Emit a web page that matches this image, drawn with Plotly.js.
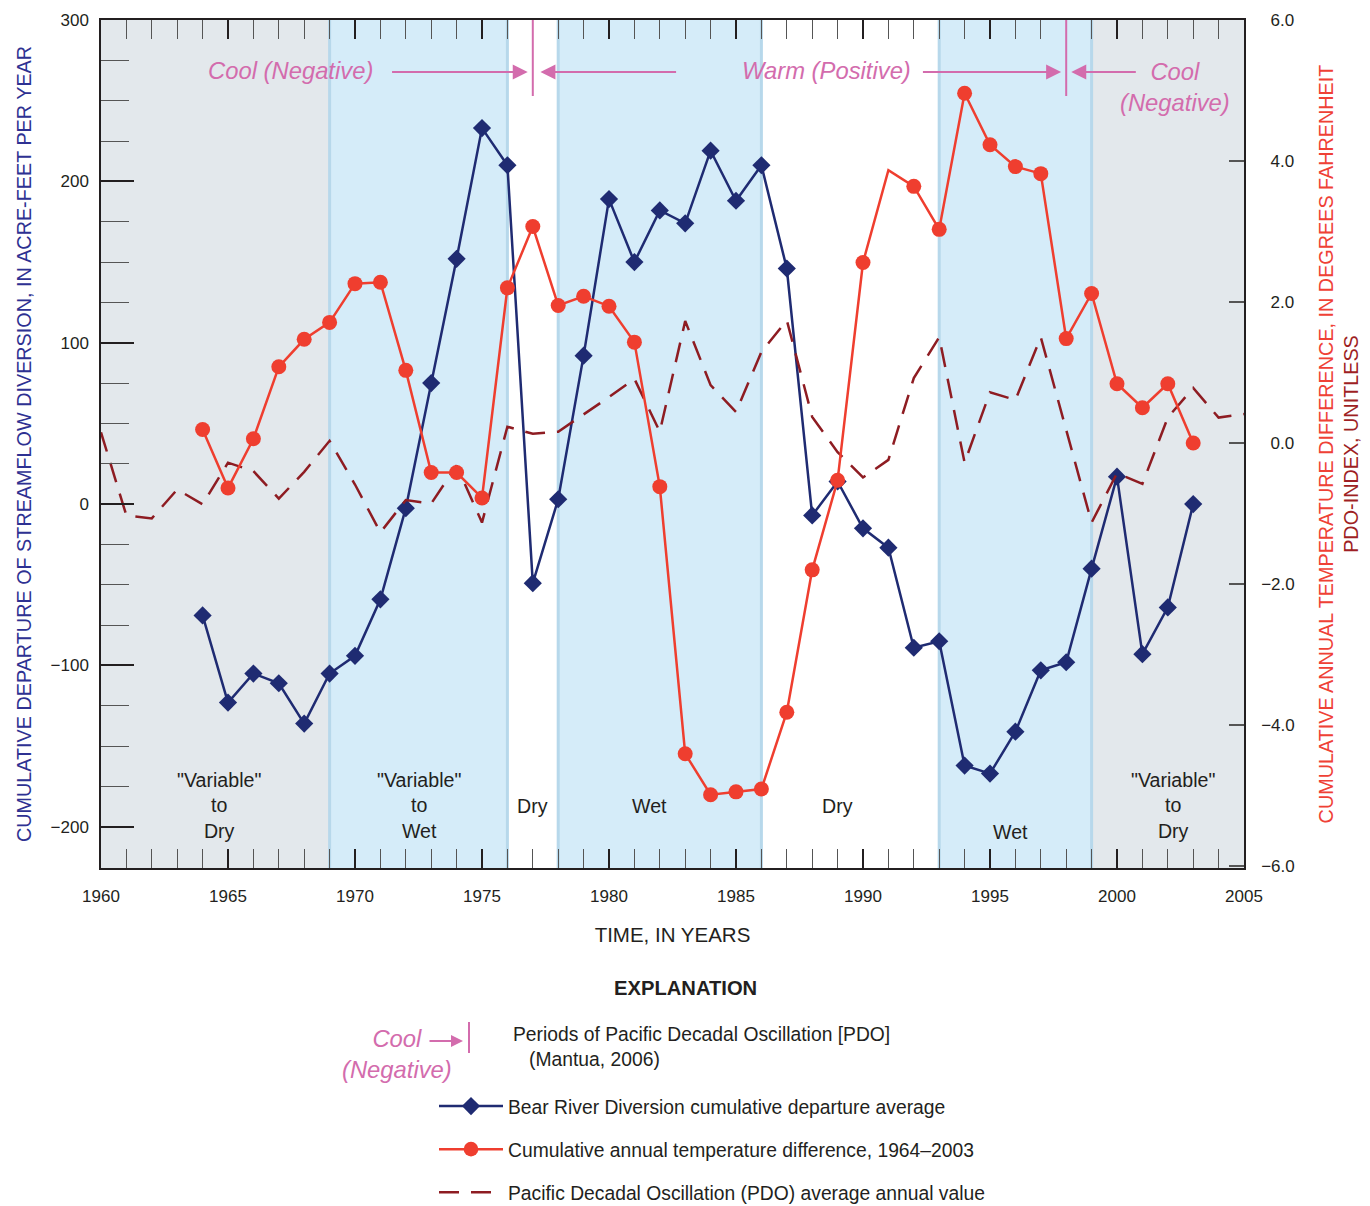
<!DOCTYPE html>
<html><head><meta charset="utf-8">
<script src="https://cdn.plot.ly/plotly-3.0.1.min.js"></script>
<style>body{margin:0;background:#fff}#chart{width:1370px;height:1206px}</style>
</head><body><div id="chart"></div>
<script>
// ---------------- DATA ----------------
const years = [1964,1965,1966,1967,1968,1969,1970,1971,1972,1973,1974,1975,1976,1977,1978,1979,1980,1981,1982,1983,1984,1985,1986,1987,1988,1989,1990,1991,1992,1993,1994,1995,1996,1997,1998,1999,2000,2001,2002,2003];
const diversion = [-69,-123,-105,-111,-136,-105,-94,-59,-2.5,75,152,233,210,-49,3,92,189,150,182,174,219,188,210,146,-7,14,-15,-27,-89,-85,-162,-167,-141,-103,-98,-40,17,-93,-64,0];
const tempDiff = [0.19,-0.64,0.06,1.08,1.47,1.71,2.26,2.28,1.03,-0.42,-0.42,-0.78,2.2,3.07,1.95,2.08,1.94,1.43,-0.62,-4.41,-4.99,-4.95,-4.91,-3.82,-1.8,-0.53,2.56,3.87,3.64,3.03,4.96,4.23,3.92,3.82,1.48,2.12,0.84,0.5,0.84,0.0];
const tempMarkerShown = years.map(y => y !== 1991);
const pdoYears = [1960,1961,1962,1963,1964,1965,1966,1967,1968,1969,1970,1971,1972,1973,1974,1975,1976,1977,1978,1979,1980,1981,1982,1983,1984,1985,1986,1987,1988,1989,1990,1991,1992,1993,1994,1995,1996,1997,1998,1999,2000,2001,2002,2003,2004,2005];
const pdoIndex = [0.15,-1.03,-1.07,-0.66,-0.87,-0.28,-0.4,-0.79,-0.41,0.03,-0.59,-1.27,-0.81,-0.86,-0.32,-1.13,0.23,0.13,0.16,0.4,0.65,0.91,0.16,1.73,0.82,0.44,1.29,1.74,0.37,-0.13,-0.49,-0.24,0.92,1.5,-0.28,0.72,0.61,1.5,0.17,-1.13,-0.43,-0.58,0.36,0.78,0.36,0.41];
const periodBounds = [1960,1969,1976,1978,1986,1993,1999,2005];
const periodFill = ['grey','blue','white','blue','white','blue','grey'];
const pdoShiftYears = [1977,1998];
const rightTickVals = [-6,-4,-2,0,2,4,6];
const rightTickText = ['\u22126.0','\u22124.0','\u22122.0','\u20070.0','\u20072.0','\u20074.0','\u20076.0'];

// ---------------- STYLE ----------------
const FONT = 'Liberation Sans, Arial, sans-serif';
const INK = '#231f20';
const BLUE = '#1f2b72';
const RED = '#ef3e2f';
const DRED = '#8e1c22';
const PINK = '#d36cad';
const FILLS = {grey:'#e3e8ec', blue:'#d5ecf9', white:'rgba(0,0,0,0)'};
const EDGE = '#b7d8eb';

// plot area in page pixels (for decoration placement)
const L = 101, R = 1244, T = 20, B = 868;
const px = x => (x - L) / (R - L);
const py = y => (B - y) / (B - T);

const shapes = [];
for (let i = 0; i < periodFill.length; i++) {
  shapes.push({type:'rect', xref:'x', yref:'paper', x0:periodBounds[i], x1:periodBounds[i+1], y0:0, y1:1,
    fillcolor:FILLS[periodFill[i]], line:{width:0}, layer:'below'});
}
for (let i = 0; i < periodFill.length; i++) {
  if (periodFill[i] === 'blue') {
    [periodBounds[i], periodBounds[i+1]].forEach(b => shapes.push({type:'line', xref:'x', yref:'paper',
      x0:b, x1:b, y0:0, y1:1, line:{color:EDGE, width:3}, layer:'below'}));
  }
}
pdoShiftYears.forEach(yr => shapes.push({type:'line', xref:'x', yref:'paper', x0:yr, x1:yr,
  y0:py(96), y1:1, line:{color:PINK, width:2}}));
// legend symbol for PDO periods
shapes.push({type:'line', xref:'paper', yref:'paper', x0:px(469), x1:px(469), y0:py(1022), y1:py(1053),
  line:{color:PINK, width:2}});

const annotations = [];
const pinkFont = {family:FONT, size:23.8, color:PINK};
const arrow = (xHead, xTail, yPix) => ({xref:'x', yref:'paper', x:xHead, y:py(yPix), axref:'x', ayref:'pixel',
  ax:xTail, ay:0, text:'', showarrow:true, arrowhead:2, arrowsize:1.5, arrowwidth:2, arrowcolor:PINK, standoff:0});
const txt = (o) => Object.assign({showarrow:false, xanchor:'center', yanchor:'middle'}, o);
annotations.push(txt({xref:'x', yref:'paper', x:1967.45, y:py(71), text:'<i>Cool (Negative)</i>', font:pinkFont}));
annotations.push(txt({xref:'x', yref:'paper', x:1988.55, y:py(71), text:'<i>Warm (Positive)</i>', font:pinkFont}));
annotations.push(txt({xref:'x', yref:'paper', x:2002.3, y:py(87), text:'<i>Cool<br>(Negative)</i>', font:pinkFont}));
annotations.push(arrow(1976.8, 1971.4, 72));
annotations.push(arrow(1977.3, 1982.7, 72));
annotations.push(arrow(1997.8, 1992.3, 72));
annotations.push(arrow(1998.2, 2000.8, 72));

const regFont = {family:FONT, size:19.6, color:INK};
[
  [1964.65, -187, '"Variable"<br>to<br>Dry'],
  [1972.5, -187, '"Variable"<br>to<br>Wet'],
  [1977.0, -187, 'Dry'],
  [1981.6, -187, 'Wet'],
  [1989.0, -187, 'Dry'],
  [1995.8, -203, 'Wet'],
  [2002.2, -187, '"Variable"<br>to<br>Dry']
].forEach(a => annotations.push(txt({xref:'x', yref:'y', x:a[0], y:a[1], text:a[2], font:regFont})));

// explanation
annotations.push(txt({xref:'paper', yref:'paper', x:px(685), y:py(988), text:'<b>EXPLANATION</b>',
  font:{family:FONT, size:20.2, color:INK}}));
annotations.push(txt({xref:'paper', yref:'paper', x:px(397), y:py(1054), text:'<i>Cool<br>(Negative)</i>',
  font:pinkFont}));
annotations.push({xref:'paper', yref:'paper', x:px(463), y:py(1041), axref:'pixel', ayref:'pixel', ax:-35, ay:0,
  text:'', showarrow:true, arrowhead:2, arrowsize:1.2, arrowwidth:2, arrowcolor:PINK, standoff:0});
annotations.push(txt({xref:'paper', yref:'paper', x:px(511), y:py(1047), xanchor:'left', align:'left',
  text:'Periods of Pacific Decadal Oscillation [PDO]<br>&nbsp;&nbsp;&nbsp;(Mantua, 2006)',
  font:{family:FONT, size:19.3, color:INK}}));

const traces = [
  {x:years, y:diversion, type:'scatter', mode:'lines+markers', name:'Bear River Diversion cumulative departure average',
    line:{color:BLUE, width:2.5}, marker:{symbol:'diamond', size:14, color:BLUE, opacity:1, line:{width:0}},
    legendgroup:'a', legendrank:1},
  {x:pdoYears, y:pdoIndex, type:'scatter', mode:'lines', yaxis:'y2', name:'Pacific Decadal Oscillation (PDO) average annual value',
    line:{color:DRED, width:2.5, dash:'20px,12px'}, legendgroup:'c', legendrank:3},
  {x:years, y:tempDiff, type:'scatter', mode:'lines+markers', yaxis:'y2', name:'Cumulative annual temperature difference, 1964\u20132003',
    line:{color:RED, width:2.5}, marker:{symbol:'circle', size:tempMarkerShown.map(s => s ? 15 : 0), color:RED, opacity:1, line:{width:0}},
    legendgroup:'b', legendrank:2}
];

const layout = {
  width:1370, height:1206,
  margin:{l:L, r:1370-R, t:T, b:1206-B, autoexpand:false},
  paper_bgcolor:'#fff', plot_bgcolor:'#fff',
  font:{family:FONT, color:INK, size:17},
  showlegend:true,
  legend:{x:px(434), xanchor:'left', y:py(1087), yanchor:'top', bgcolor:'rgba(0,0,0,0)',
    font:{family:FONT, size:19.3, color:INK}, tracegroupgap:15, itemwidth:64},
  xaxis:{range:[1960,2005], tick0:1960, dtick:5, ticks:'inside', ticklen:19, tickwidth:2, tickcolor:INK,
    minor:{dtick:1, ticks:'inside', ticklen:19, tickwidth:1, tickcolor:'#555'},
    showline:true, linecolor:INK, linewidth:1.5, mirror:'allticks', showgrid:false, zeroline:false,
    tickfont:{family:FONT, size:17, color:INK}, ticklabelstandoff:12,
    title:{text:'TIME, IN YEARS', font:{family:FONT, size:20.5, color:INK}, standoff:22}},
  yaxis:{range:[-225.5,300], dtick:100, ticks:'inside', ticklen:33, tickwidth:1.5, tickcolor:INK,
    minor:{dtick:25, ticks:'inside', ticklen:28, tickwidth:1, tickcolor:'#555'},
    showline:true, linecolor:INK, linewidth:1.5, showgrid:false, zeroline:false,
    tickfont:{family:FONT, size:17, color:INK}, ticklabelstandoff:7,
    title:{text:'CUMULATIVE DEPARTURE OF STREAMFLOW DIVERSION, IN ACRE-FEET PER YEAR',
      font:{family:FONT, size:19.8, color:'#2e3192'}, standoff:14}},
  yaxis2:{overlaying:'y', side:'right', range:[-6.03,6.0], tickmode:'array', tickvals:rightTickVals, ticktext:rightTickText,
    ticks:'inside', ticklen:15, tickwidth:1.5, tickcolor:'#555',
    showline:true, linecolor:INK, linewidth:1.5, showgrid:false, zeroline:false,
    tickfont:{family:FONT, size:17, color:INK}, ticklabelstandoff:12,
    title:{text:'<span style="color:#ef4136">CUMULATIVE ANNUAL TEMPERATURE DIFFERENCE, IN DEGREES FAHRENHEIT</span><br><span style="color:#9e1f24">PDO-INDEX, UNITLESS</span>',
      font:{family:FONT, size:19.8, color:'#ef4136'}, standoff:25}},
  shapes:shapes,
  annotations:annotations
};

Plotly.newPlot('chart', traces, layout, {displayModeBar:false});
</script>
</body></html>
